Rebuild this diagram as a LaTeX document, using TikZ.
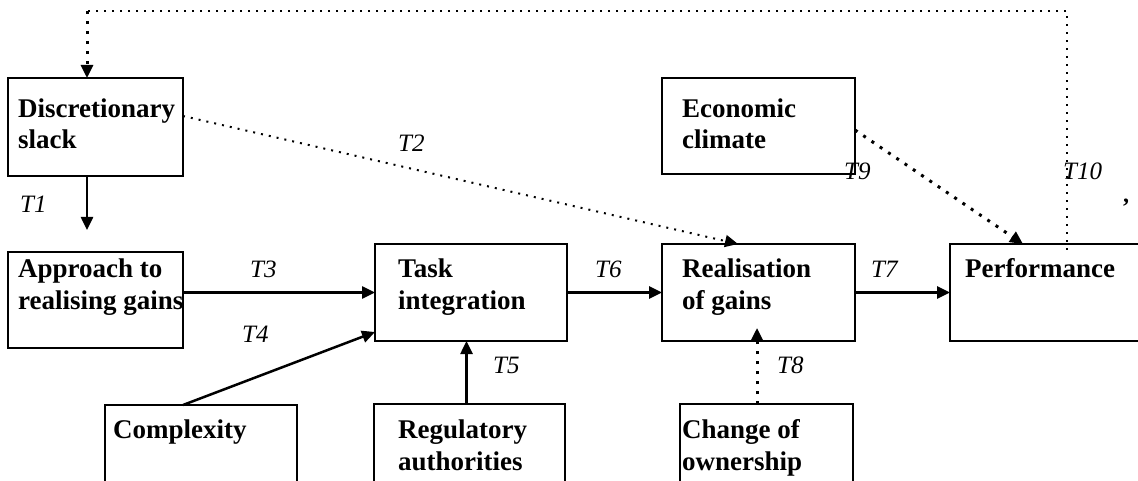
\documentclass[tikz,border=0pt]{standalone}
\usepackage{fontspec}
\setmainfont{Liberation Serif}
\usetikzlibrary{arrows.meta,calc}
\begin{document}
\begin{tikzpicture}[x=1pt,y=-1pt,
  box/.style={draw,line width=2.8pt,inner sep=0pt,outer sep=0pt,anchor=north west},
  % base west of a multi-line text is the baseline of its last line
  txt/.style={anchor=base west,inner sep=0pt,align=left,font=\fontsize{27}{31.5}\selectfont\bfseries},
  lab/.style={anchor=base west,inner sep=0pt,font=\fontsize{25}{30}\selectfont\itshape},
  tip/.style={-{Triangle[length=13pt,width=12pt]}},
  arr/.style={line width=2.5pt,tip},
  finedots/.style={line width=2pt,dash pattern=on 2pt off 6pt},
  thickdots/.style={line width=3pt,dash pattern=on 3pt off 7pt}]

\fill[white] (0,0) rectangle (1138,481);
\clip (0,0) rectangle (1138,481);

% boxes
\node[box,minimum width=175pt,minimum height=98pt] (ds) at (8,78) {};
\node[box,minimum width=175pt,minimum height=96pt] (ap) at (8,252) {};
\node[box,minimum width=192pt,minimum height=97pt] (ti) at (375,244) {};
\node[box,minimum width=193pt,minimum height=97pt] (rg) at (662,244) {};
\node[box,minimum width=200pt,minimum height=97pt] (pf) at (950,244) {};
\node[box,minimum width=193pt,minimum height=96pt] (ec) at (662,78) {};
\node[box,minimum width=192pt,minimum height=90pt] (cx) at (105,405) {};
\node[box,minimum width=191pt,minimum height=90pt] (ra) at (374,404) {};
\node[box,minimum width=173pt,minimum height=90pt] (co) at (680,404) {};

% box texts
\node[txt] (dsT) at (18,149) {Discretionary\\slack};
\node[txt] (apT) at (18,309) {Approach to\\realising gains};
\node[txt] (tiT) at (398,309) {Task\\integration};
\node[txt] (rgT) at (682,309) {Realisation\\of gains};
\node[txt] (pfT) at (965,277) {Performance};
\node[txt] (ecT) at (682,149) {Economic\\climate};
\node[txt] (cxT) at (113,438) {Complexity};
\node[txt] (raT) at (398,470) {Regulatory\\authorities};
\node[txt] (coT) at (682,470) {Change of\\ownership};

% link labels
\node[lab] (l1) at (20,213) {T1};
\node[lab] (l2) at (398,152) {T2};
\node[lab] (l3) at (250,277) {T3};
\node[lab] (l4) at (242,342) {T4};
\node[lab] (l5) at (493,373) {T5};
\node[lab] (l6) at (595,277) {T6};
\node[lab] (l7) at (871,277) {T7};
\node[lab] (l8) at (777,373) {T8};
\node[lab] (l9) at (844,180) {T9};
\node[lab] (l10) at (1063,180) {T10};
\node[anchor=base west,inner sep=0pt,font=\fontsize{24}{28}\selectfont\bfseries] (cm) at (1123,203) {,};

% solid links
\coordinate (t1end) at ($(ds.south west)+(79,54)$);
\draw[arr] ($(ds.south west)+(79,0)$) -- (t1end);
\draw[arr] (ap.east |- ti.west) -- (ti.west);
\draw[arr] ($(cx.north west)+(78,0)$) -- ($(ti.south west)+(0,-9)$);
\coordinate (t5s) at ($(ra.north)+(-3,0)$);
\draw[arr] (t5s) -- (t5s |- ti.south);
\draw[arr] (ti.east) -- (rg.west);
\draw[arr] (rg.east) -- (pf.west |- rg.east);

% dotted links
\draw[finedots,tip] ($(ds.north east)+(0,38)$) -- ($(rg.north west)+(76,0)$);
\draw[thickdots,tip] ($(ec.north east)+(0,52)$) -- ($(pf.north west)+(73,0)$);
\coordinate (c8) at ($(co.north west)+(77,0)$);
\draw[thickdots,tip] (c8) -- ($(rg.south west)+(95,-13)$);

% feedback from performance to discretionary slack
\coordinate (fbS) at ($(pf.north west)+(117,6)$);
\coordinate (fbE) at ($(ds.north west)+(79,0)$);
\coordinate (fbTop) at (0,11);
\draw[finedots,line width=1.8pt] (fbS) -- (fbS |- fbTop) -- (fbE |- fbTop);
\draw[thickdots,tip] (fbE |- fbTop) -- (fbE);

\end{tikzpicture}
\end{document}
